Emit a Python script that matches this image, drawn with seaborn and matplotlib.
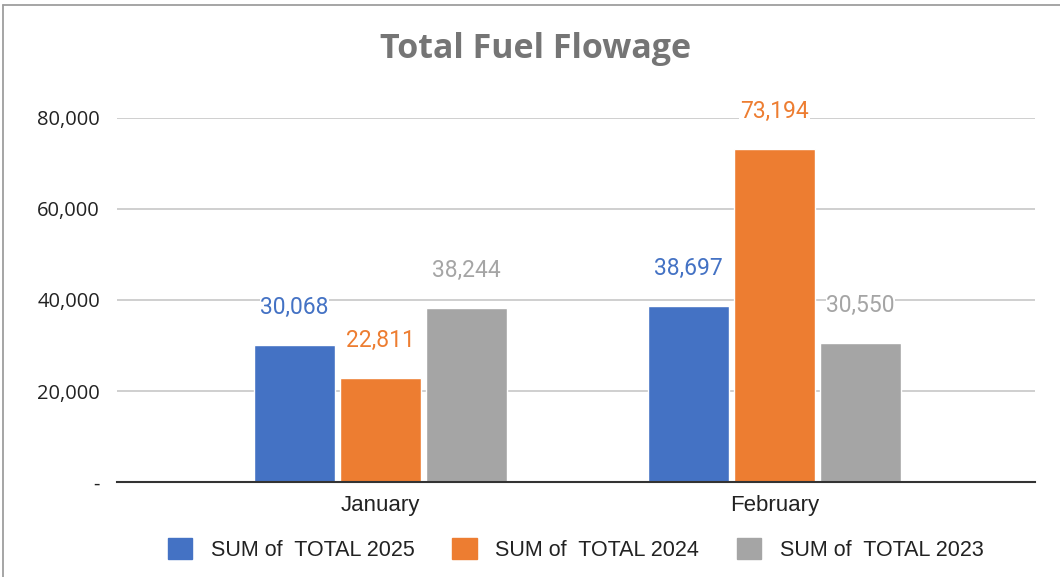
import matplotlib
matplotlib.use('Agg')
import matplotlib.pyplot as plt
import matplotlib.patches as mpatches
import matplotlib.lines as mlines
import pandas as pd
import seaborn as sns

# Chart data
months = ['January', 'February']
series_names = ['SUM of  TOTAL 2025', 'SUM of  TOTAL 2024', 'SUM of  TOTAL 2023']
total_2025 = [30068, 38697]
total_2024 = [22811, 73194]
total_2023 = [38244, 30550]

COLORS = ['#4472C4', '#ED7D31', '#A5A5A5']
NARROW = ['Liberation Sans Narrow', 'Liberation Sans', 'DejaVu Sans']

rows = []
for name, vals in zip(series_names, [total_2025, total_2024, total_2023]):
    for m, v in zip(months, vals):
        rows.append({'month': m, 'series': name, 'value': v})
df = pd.DataFrame(rows)

sns.set_theme(style='white')
plt.rcParams['font.family'] = ['Open Sans', 'DejaVu Sans']

fig = plt.figure(figsize=(10.6, 5.77), dpi=100)
ax = fig.add_axes([0.110, 0.1646, 0.866, 0.631])

sns.barplot(data=df, x='month', y='value', hue='series', order=months,
            hue_order=series_names, palette=COLORS, width=0.655, gap=0.058,
            saturation=1, errorbar=None, ax=ax, legend=False)

ax.set_xlim(-0.67, 1.66)
ax.set_ylim(0, 80000)
ax.set_yticks([0, 20000, 40000, 60000, 80000])
ax.set_yticklabels(['-', '20,000', '40,000', '60,000', '80,000'],
                   fontsize=14.5, color='#222222')
ax.yaxis.grid(True, color='#cccccc', linewidth=1.3)
ax.set_axisbelow(True)
ax.tick_params(axis='y', length=0, pad=12)
ax.tick_params(axis='x', length=0, pad=9)
for lab in ax.get_xticklabels():
    lab.set_family(NARROW)
    lab.set_fontsize(16)
    lab.set_color('#222222')
ax.set_xlabel('')
ax.set_ylabel('')
for side in ['top', 'right', 'left']:
    ax.spines[side].set_visible(False)
ax.spines['bottom'].set_color('#333333')
ax.spines['bottom'].set_linewidth(1.5)

# Value labels above bars
for cont, col in zip(ax.containers, COLORS):
    labels = [f'{int(b.get_height()):,}' for b in cont]
    texts = ax.bar_label(cont, labels=labels, padding=19, color=col,
                         fontsize=16.5, family=['Roboto', 'DejaVu Sans'],
                         clip_on=False)
    for t in texts:
        t.set_bbox(dict(facecolor='white', edgecolor='none', pad=0.5))

fig.suptitle('Total Fuel Flowage', x=0.505, y=0.945, fontsize=24.5,
             fontweight='bold', color='#757575')

handles = [mpatches.Patch(color=c, label=n) for c, n in zip(COLORS, series_names)]
leg = fig.legend(handles=handles, loc='center', bbox_to_anchor=(0.543, 0.048),
                 ncol=3, frameon=False, handlelength=1.15, handleheight=1.15,
                 columnspacing=1.75, handletextpad=0.85,
                 prop={'family': NARROW, 'size': 15.5})
for t in leg.get_texts():
    t.set_color('#222222')

# Chart border (top and left edges)
top_y = 1 - 5 / 577
left_x = 3 / 1060
fig.lines.append(mlines.Line2D([left_x, 1], [top_y, top_y], transform=fig.transFigure,
                               color='#9e9e9e', linewidth=1.3))
fig.lines.append(mlines.Line2D([left_x, left_x], [0, top_y], transform=fig.transFigure,
                               color='#9e9e9e', linewidth=1.3))

fig.savefig('out.png', dpi=100, facecolor='white')
